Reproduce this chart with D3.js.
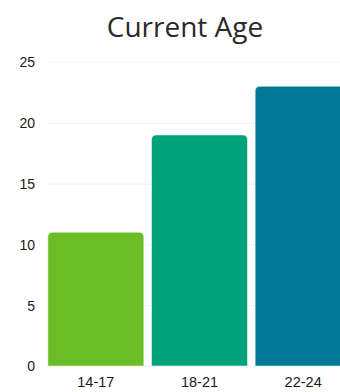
<!DOCTYPE html>
<html>
<head>
<meta charset="utf-8">
<script src="https://cdn.jsdelivr.net/npm/d3@7"></script>
<style>
  html, body { margin: 0; padding: 0; background: #fff; overflow: hidden; }
  svg { display: block; }
</style>
</head>
<body>
<div id="chart"></div>
<script>
// Age groups and respondent counts
const categories = ["14-17", "18-21", "22-24"];
const counts = [11, 19, 23];
const barColors = ["#6abd25", "#00a27a", "#007896"];
const yTicks = [0, 5, 10, 15, 20, 25];
const title = "Current Age";

const width = 340, height = 392;

const svg = d3.select("#chart").append("svg")
  .attr("width", width)
  .attr("height", height);

const x = d3.scaleBand()
  .domain(categories)
  .range([44, 355])
  .paddingInner(0.074)
  .paddingOuter(0.037);

const y = d3.scaleLinear()
  .domain([0, 25])
  .range([366, 62]);

// Title
svg.append("text")
  .attr("x", 185)
  .attr("y", 37)
  .attr("text-anchor", "middle")
  .attr("font-family", "'Open Sans', sans-serif")
  .attr("font-size", 28)
  .attr("fill", "#2a2a2a")
  .text(title);

// Horizontal gridlines
svg.append("g")
  .selectAll("line")
  .data(yTicks)
  .join("line")
  .attr("x1", 48)
  .attr("x2", width)
  .attr("y1", d => y(d) + 0.5)
  .attr("y2", d => y(d) + 0.5)
  .attr("stroke", "#f2f2f2")
  .attr("stroke-width", 1);

// Y axis labels
const yAxis = d3.axisLeft(y).tickValues(yTicks).tickSize(0).tickPadding(0);
svg.append("g")
  .attr("transform", "translate(35,0.5)")
  .call(yAxis)
  .call(g => g.select(".domain").remove())
  .call(g => g.selectAll("text")
    .attr("font-family", "'Liberation Sans', Arial, sans-serif")
    .attr("font-size", 14)
    .attr("fill", "#1a1a1a"));

// Bars with rounded top corners
const r = 5;
function barPath(d, i) {
  const x0 = x(categories[i]), w = x.bandwidth();
  const yt = y(d), yb = y(0);
  return `M${x0},${yb}V${yt + r}Q${x0},${yt} ${x0 + r},${yt}` +
         `H${x0 + w - r}Q${x0 + w},${yt} ${x0 + w},${yt + r}V${yb}Z`;
}
svg.append("g")
  .selectAll("path")
  .data(counts)
  .join("path")
  .attr("d", (d, i) => barPath(d, i))
  .attr("fill", (d, i) => barColors[i])
  .attr("stroke", "#fff")
  .attr("stroke-opacity", 0.5)
  .attr("stroke-width", 1);

// X axis labels
const xAxis = d3.axisBottom(x).tickSize(0).tickPadding(0);
svg.append("g")
  .attr("transform", "translate(0,377)")
  .call(xAxis)
  .call(g => g.select(".domain").remove())
  .call(g => g.selectAll("text")
    .attr("font-family", "'Liberation Sans', Arial, sans-serif")
    .attr("font-size", 14.5)
    .attr("fill", "#1a1a1a"));
</script>
</body>
</html>
